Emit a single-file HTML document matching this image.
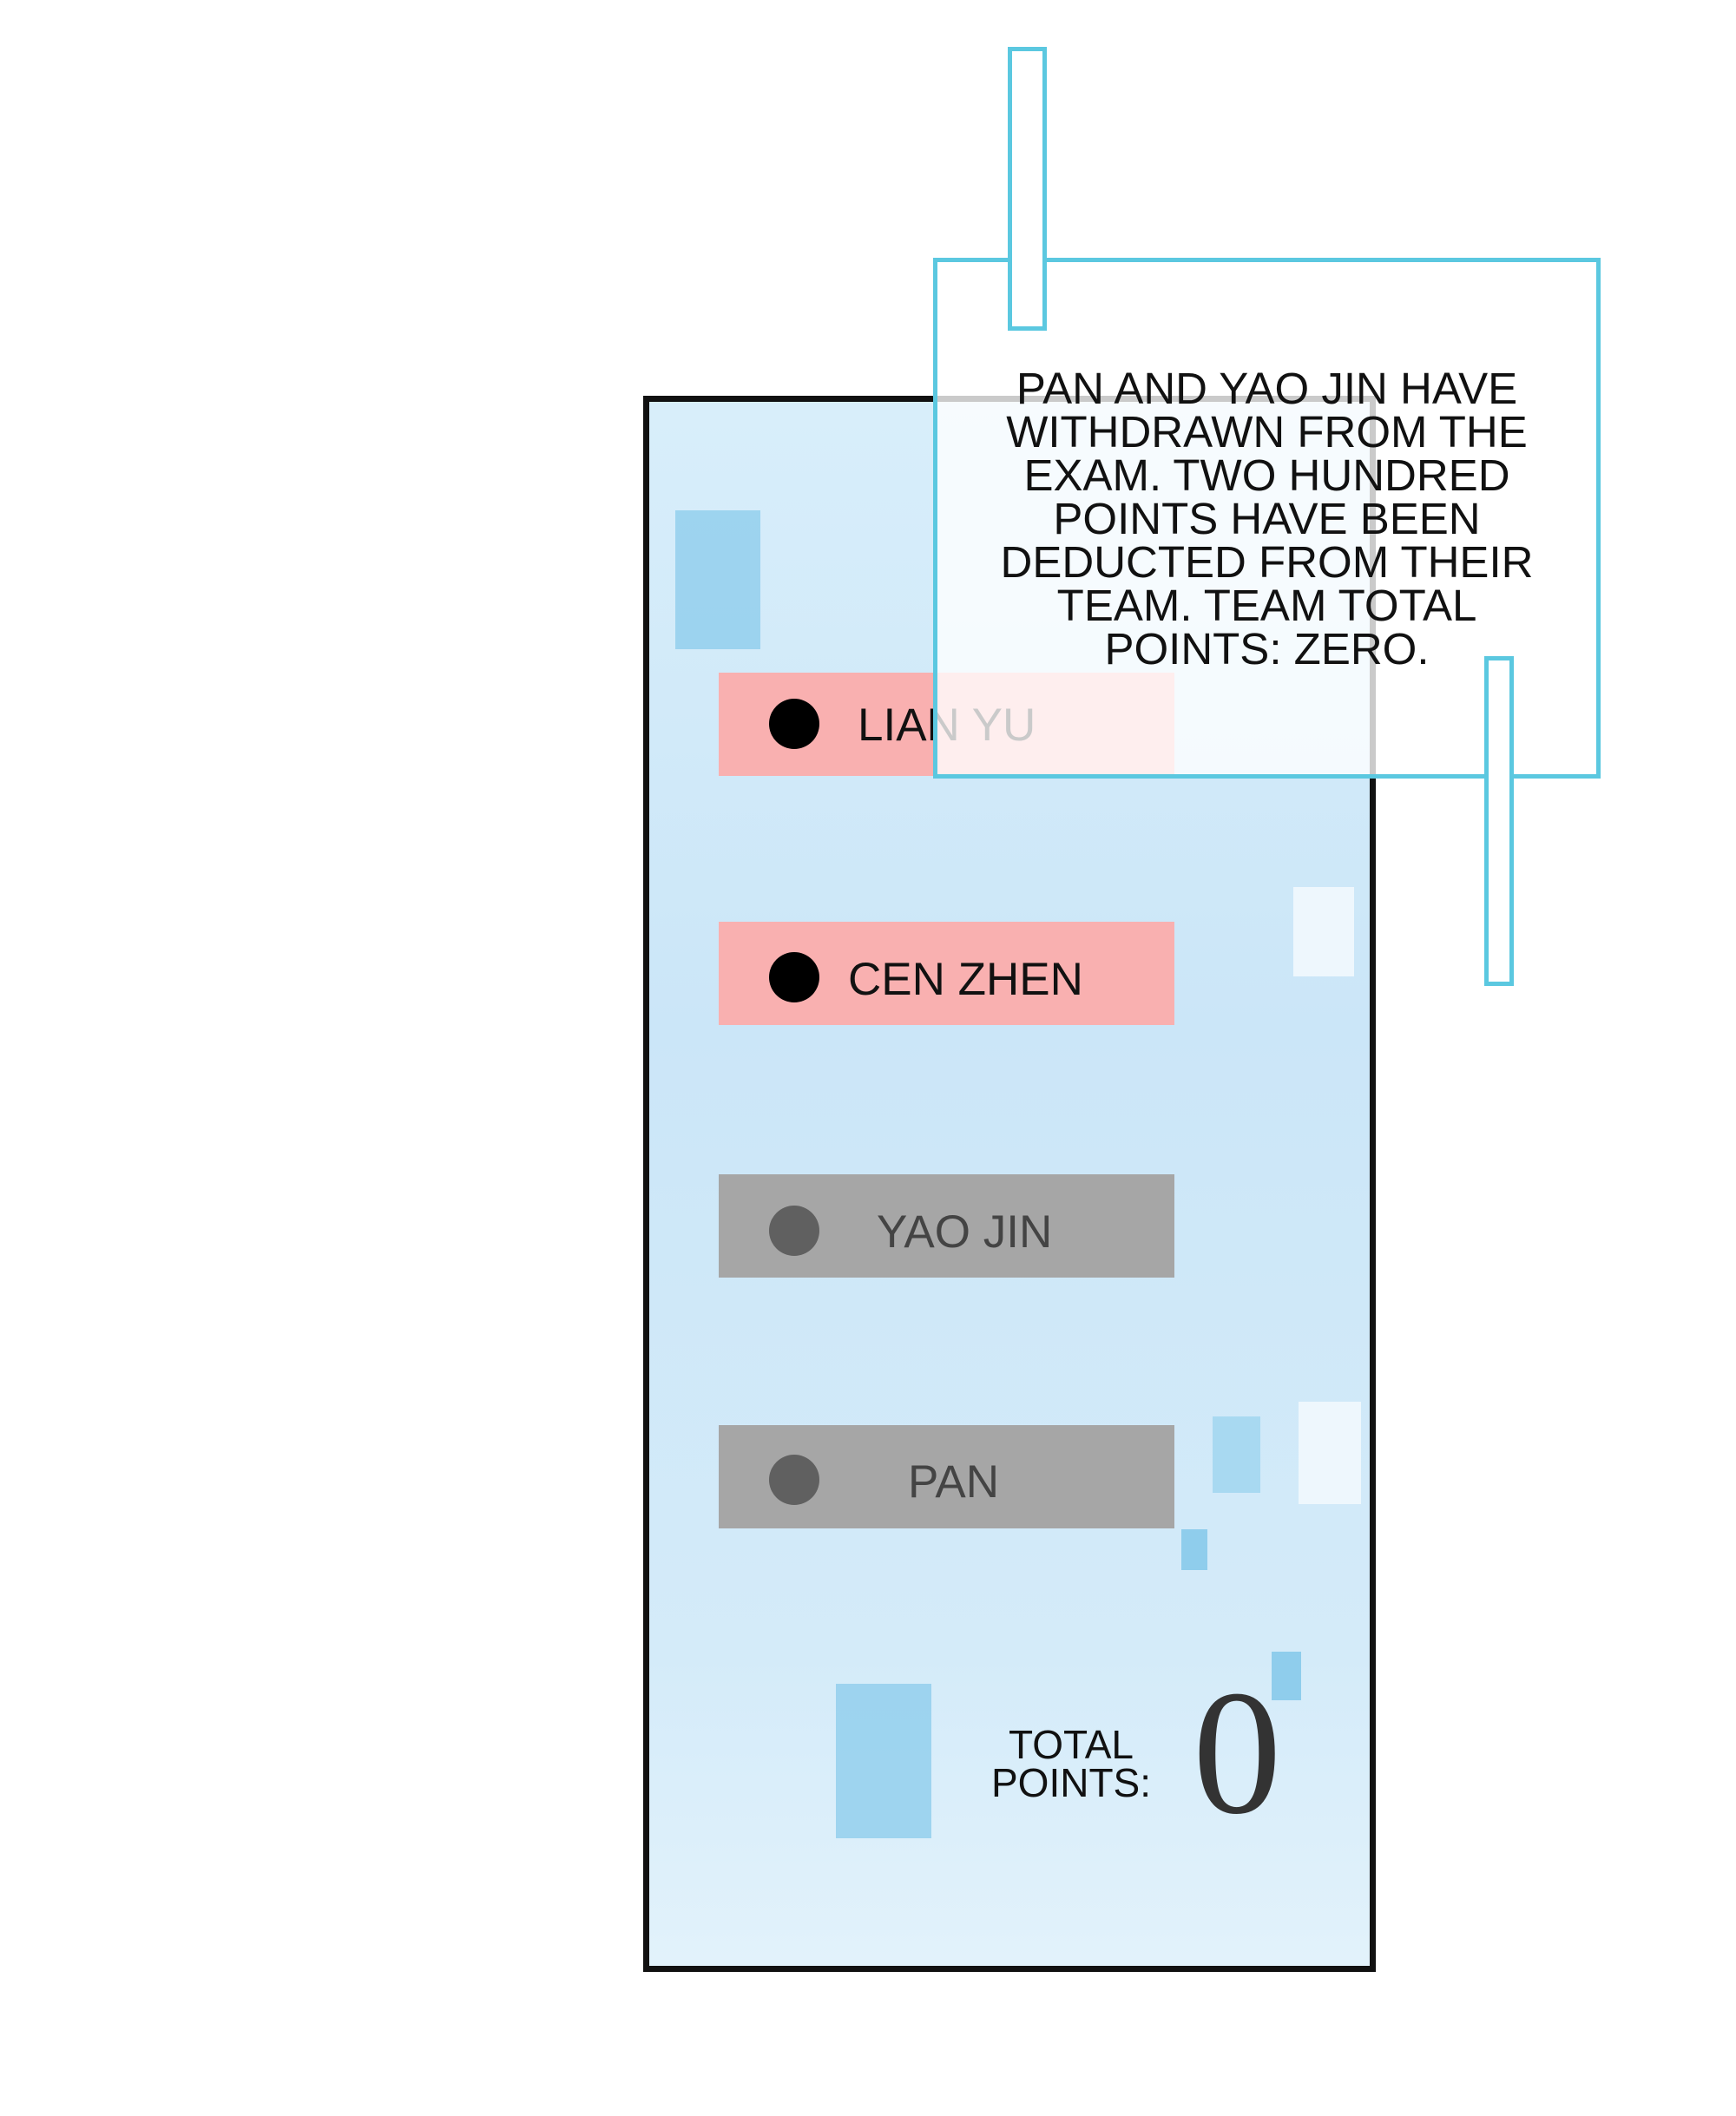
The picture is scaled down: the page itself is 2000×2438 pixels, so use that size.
<!DOCTYPE html>
<html><head><meta charset="utf-8"><style>
body{margin:0;width:2000px;height:2438px;background:#fff;position:relative;overflow:hidden;font-family:"Liberation Sans",sans-serif}
#w{position:absolute;left:0;top:0;width:2000px;height:2438px;transform:translate(-6px,-5px)}
.a{position:absolute;box-sizing:border-box}
.bar{position:absolute;left:834px;width:525px;height:119px}
.dot{position:absolute;left:892px;width:58px;height:58px;border-radius:50%}
.lbl{position:absolute;font-size:53px;line-height:53px}
</style></head><body><div id="w">
<div class="a" style="left:747px;top:461px;width:844px;height:1816px;border:7px solid #111;background:linear-gradient(180deg,#d8eefa 0%,#cbe6f8 40%,#d4ebf9 80%,#e2f2fb 100%)"></div>
<div class="a" style="left:784px;top:593px;width:98px;height:160px;background:#8fcdec;opacity:.8"></div>
<div class="a" style="left:969px;top:1945px;width:110px;height:178px;background:#8fcdec;opacity:.8"></div>
<div class="a" style="left:1403px;top:1637px;width:55px;height:88px;background:#a8d9f1"></div>
<div class="a" style="left:1367px;top:1767px;width:30px;height:47px;background:#8fcdec"></div>
<div class="a" style="left:1471px;top:1908px;width:34px;height:56px;background:#8fcdec"></div>
<div class="a" style="left:1496px;top:1027px;width:70px;height:103px;background:#eef7fd"></div>
<div class="a" style="left:1502px;top:1620px;width:72px;height:118px;background:#eef7fd"></div>
<div class="bar" style="top:780px;background:#f9b0b0"></div>
<div class="bar" style="top:1067px;background:#f9b0b0"></div>
<div class="bar" style="top:1358px;background:#a6a6a6"></div>
<div class="bar" style="top:1647px;background:#a6a6a6"></div>
<div class="dot" style="top:810px;background:#000"></div>
<div class="dot" style="top:1102px;background:#000"></div>
<div class="dot" style="top:1394px;background:#606060"></div>
<div class="dot" style="top:1681px;background:#606060"></div>
<div class="lbl" style="left:994px;top:814px;color:#111">LIAN YU</div>
<div class="lbl" style="left:983px;top:1107px;color:#111">CEN ZHEN</div>
<div class="lbl" style="left:1016px;top:1398px;color:#444">YAO JIN</div>
<div class="lbl" style="left:1052px;top:1686px;color:#444">PAN</div>
<div class="a" style="left:1130px;top:1993px;width:220px;text-align:center;font-size:46px;line-height:44px;color:#111">TOTAL<br>POINTS:</div>
<div class="a" style="left:1380px;top:1925px;font-family:'Liberation Serif',serif;font-size:205px;line-height:200px;color:#333">0</div>
<div class="a" style="left:1081px;top:302px;width:769px;height:600px;border:5px solid #5bc8e0;background:rgba(255,255,255,.78)"></div>
<div class="a" style="left:1081px;top:428px;width:769px;text-align:center;font-size:51px;line-height:50px;color:#111">PAN AND YAO JIN HAVE<br>WITHDRAWN FROM THE<br>EXAM. TWO HUNDRED<br>POINTS HAVE BEEN<br>DEDUCTED FROM THEIR<br>TEAM. TEAM TOTAL<br>POINTS: ZERO.</div>
<div class="a" style="left:1167px;top:59px;width:45px;height:327px;border:5px solid #5bc8e0;background:#fff"></div>
<div class="a" style="left:1716px;top:761px;width:34px;height:380px;border:5px solid #5bc8e0;background:#fff"></div>
</div></body></html>
